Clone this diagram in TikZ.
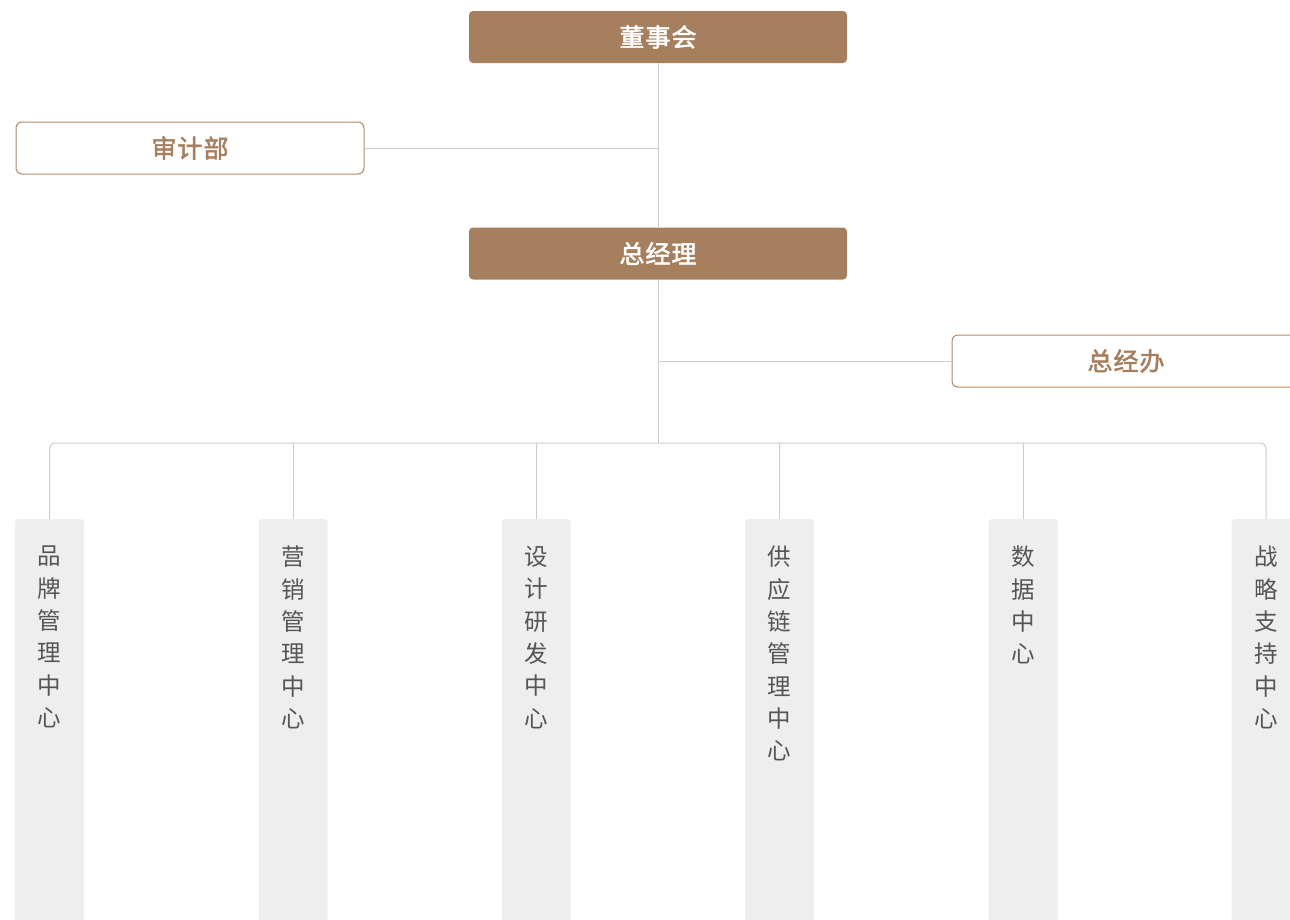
\documentclass[tikz,border=0pt]{standalone}
\usepackage{fontspec}
\newfontfamily\cjk{Noto Sans CJK SC}
\newfontfamily\cjkb{Noto Sans CJK SC}[FakeBold=2]
\definecolor{brown}{HTML}{A57F5E}
\definecolor{brownline}{HTML}{B08A68}
\definecolor{linegray}{HTML}{CCCCCC}
\definecolor{colfill}{HTML}{EEEEEE}
\definecolor{coltext}{HTML}{555555}
\tikzset{
  x=1pt, y=-1pt,
  solidbox/.style={draw=none, fill=brown, rounded corners=4pt, minimum width=378pt, minimum height=52pt, inner sep=0pt, text=white, font=\cjkb\fontsize{25}{25}\selectfont},
  outlinebox/.style={draw=brownline, line width=1pt, fill=white, rounded corners=6pt, minimum width=348pt, minimum height=52pt, inner sep=0pt, text=brown, font=\cjkb\fontsize{25}{25}\selectfont},
  colbox/.style={draw=none, fill=colfill, rounded corners=3pt, minimum width=69pt, minimum height=430pt, anchor=north, inner sep=0pt},
  coltxt/.style={anchor=north, inner sep=0pt, align=center, text=coltext, font=\cjk\fontsize{23.5}{32.3}\selectfont},
  conn/.style={draw=linegray, line width=1pt},
}
\begin{document}
\begin{tikzpicture}
\useasboundingbox (0,0) rectangle (1290,919);
\clip (0,0) rectangle (1290,919);
\node[solidbox] (board) at (658,37) {董\kern1pt事\kern1pt会};
\node[outlinebox] (audit) at (190,148) {审\kern1pt计\kern1pt部};
\node[solidbox] (gm) at (658,253.5) {总\kern1pt经\kern1pt理};
\node[outlinebox] (office) at (1126,361) {总\kern1pt经\kern1pt办};
\coordinate (bus) at (658,443);
\coordinate (auditj) at (658,148);
\coordinate (officej) at (658,361);
\foreach \i/\x in {1/49.5,2/293,3/536,4/779.5,5/1023,6/1266}{
  \node[colbox] (p\i) at (\x,519) {};
}
\node[coltxt] (t1) at (49.5,546) {品\\牌\\管\\理\\中\\心};
\node[coltxt] (t2) at (293,546) {营\\销\\管\\理\\中\\心};
\node[coltxt] (t3) at (536,546) {设\\计\\研\\发\\中\\心};
\node[coltxt] (t4) at (779.5,546) {供\\应\\链\\管\\理\\中\\心};
\node[coltxt] (t5) at (1023,546) {数\\据\\中\\心};
\node[coltxt] (t6) at (1266,546) {战\\略\\支\\持\\中\\心};
\draw[conn] (board.south) -- (gm.north);
\draw[conn] (audit.east) -- (auditj);
\draw[conn] (gm.south) -- (bus);
\draw[conn] (officej) -- (office.west);
\draw[conn, rounded corners=6pt] (p1.north) -- (p1.north |- bus) -- (p6.north |- bus) -- (p6.north);
\foreach \i in {2,3,4,5}{
  \draw[conn] (p\i.north) -- (p\i.north |- bus);
}
\end{tikzpicture}
\end{document}
